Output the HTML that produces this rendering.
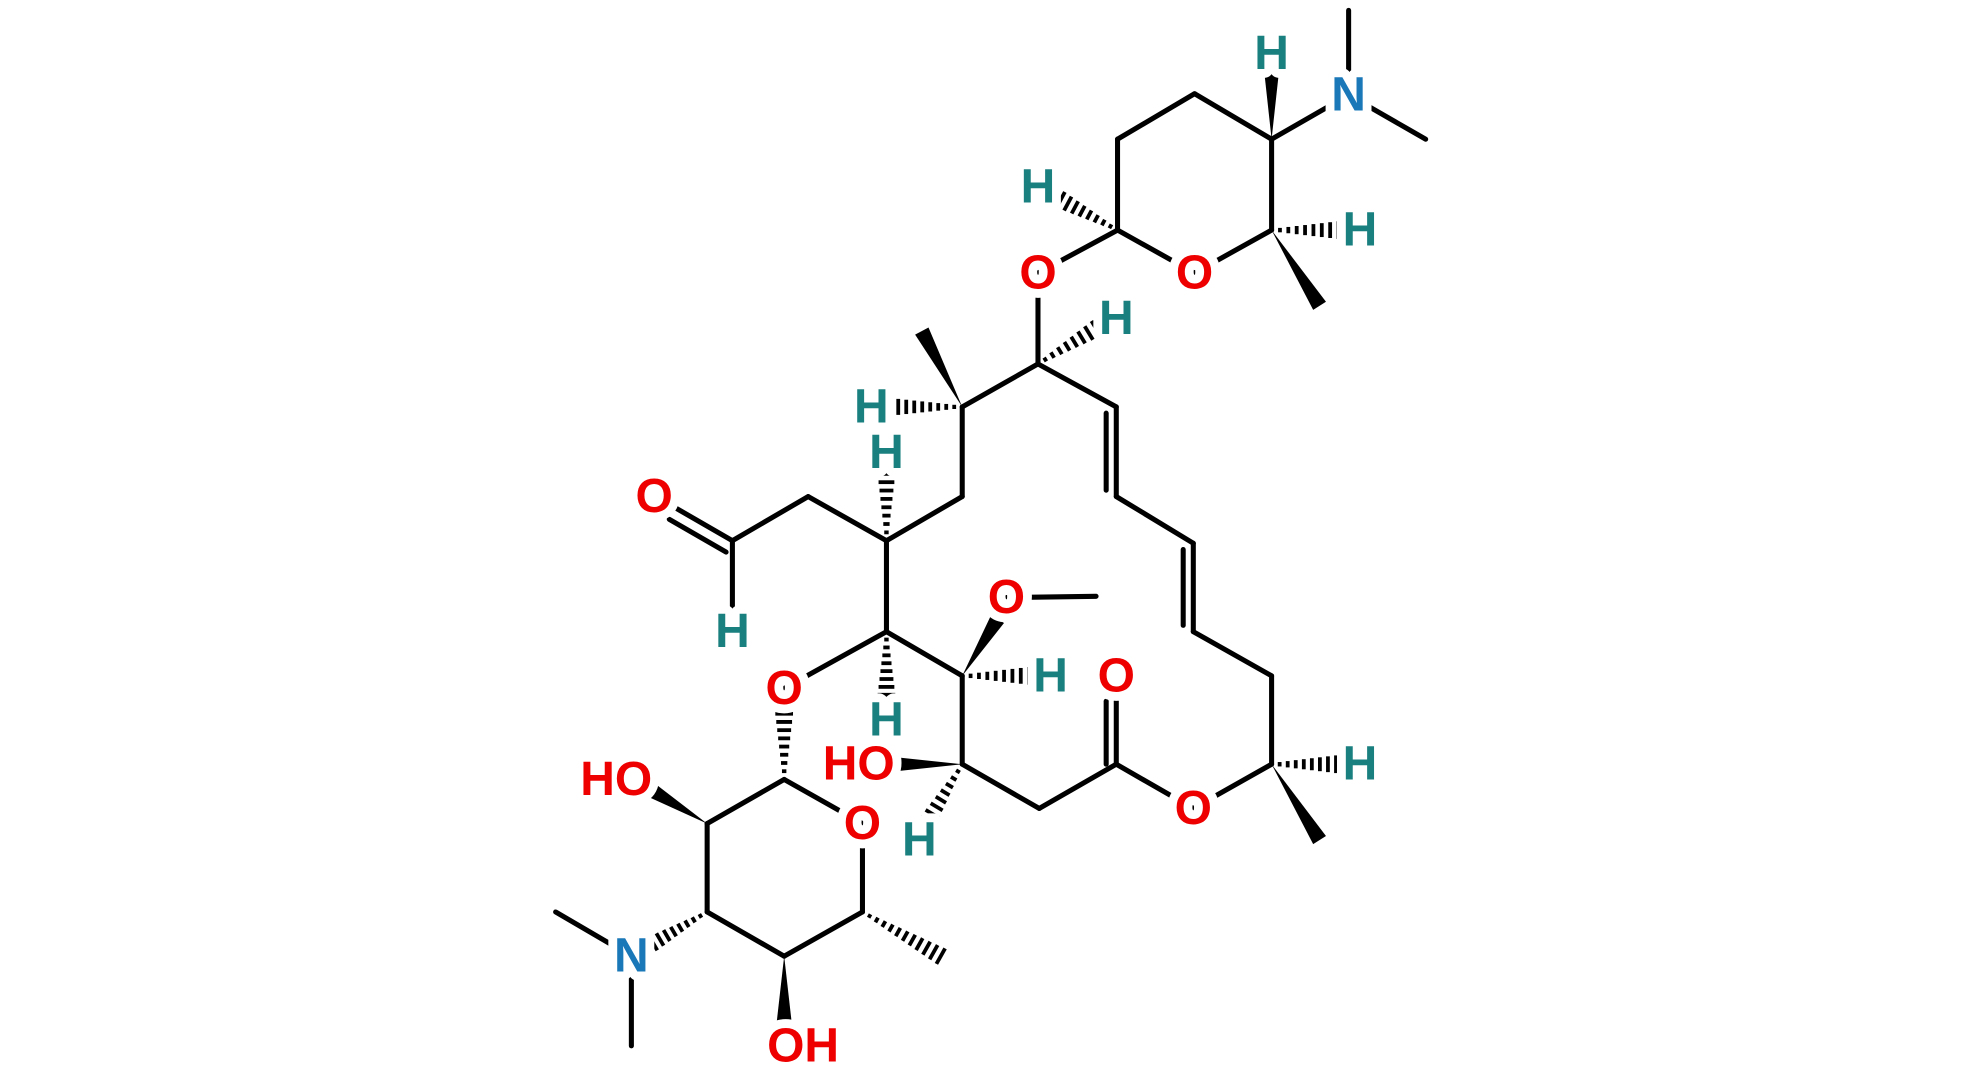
<!DOCTYPE html>
<html><head><meta charset="utf-8"><style>
html,body{margin:0;padding:0;background:#fff;}
svg{display:block;}
text{font-family:"Liberation Sans",sans-serif;font-weight:bold;font-size:38px;text-anchor:middle;dominant-baseline:central;paint-order:stroke;stroke:#fff;stroke-width:14px;stroke-linejoin:round;}
.O{fill:#ee0000}.N{fill:#1a78b8}.H{fill:#1a7f7f}
</style></head><body>
<svg id="s" width="1980" height="1084" viewBox="0 0 1568 858" xmlns="http://www.w3.org/2000/svg">
<g id="b" stroke="#000" stroke-width="4" stroke-linecap="round" fill="none"></g>
<g id="w" fill="#000"></g>
<g id="h" stroke="#000" stroke-width="3"></g>
<g id="t">
<text class="H" x="822" y="148">H</text>
<text class="H" x="1007" y="42">H</text>
<text class="N" x="1068" y="75">N</text>
<text class="H" x="1077" y="182">H</text>
<text class="O" x="946" y="216">O</text>
<text class="O" x="822" y="216">O</text>
<text class="H" x="884" y="252">H</text>
<text class="H" x="690" y="322">H</text>
<text class="H" x="702" y="358">H</text>
<text class="O" x="518" y="393">O</text>
<text class="H" x="580" y="500">H</text>
<text class="O" x="797" y="473">O</text>
<text class="H" x="832" y="535">H</text>
<text class="O" x="621" y="545">O</text>
<text class="H" x="702" y="570">H</text>
<text class="O" x="884" y="535">O</text>
<text class="O" x="680" y="605">HO</text>
<text class="H" x="728" y="665">H</text>
<text class="O" x="945" y="640">O</text>
<text class="H" x="1077" y="605">H</text>
<text class="O" x="488" y="617">HO</text>
<text class="O" x="683" y="652">O</text>
<text class="N" x="500" y="757">N</text>
<text class="O" x="636" y="828">OH</text>
</g>
</svg>
<script>
const NS="http://www.w3.org/2000/svg";
function L(a,b,c,d){const e=document.createElementNS(NS,"line");e.setAttribute("x1",a);e.setAttribute("y1",b);e.setAttribute("x2",c);e.setAttribute("y2",d);document.getElementById("b").appendChild(e);}
function W(a,b,c,d){const dx=c-a,dy=d-b,l=Math.hypot(dx,dy),px=-dy/l*6,py=dx/l*6;const p=document.createElementNS(NS,"polygon");p.setAttribute("points",`${a},${b} ${c+px},${d+py} ${c-px},${d-py}`);document.getElementById("w").appendChild(p);}
function Hs(a,b,c,d){const dx=c-a,dy=d-b,l=Math.hypot(dx,dy),ux=-dy/l,uy=dx/l;const n=Math.floor(l/6);for(let i=1;i<=n;i++){const t=i/n,x=a+dx*t,y=b+dy*t,w=1+6*t;const e=document.createElementNS(NS,"line");e.setAttribute("x1",x+ux*w);e.setAttribute("y1",y+uy*w);e.setAttribute("x2",x-ux*w);e.setAttribute("y2",y-uy*w);document.getElementById("h").appendChild(e);}}
L(885,182,885,110);L(885,110,946,74);L(946,74,1007,110);L(1007,110,1007,182);L(1007,182,946,216);L(946,216,885,182);
L(1007,110,1068,75);L(1068,75,1068,8);L(1068,75,1129,110);
W(1007,110,1007,55);Hs(1007,182,1060,182);W(1007,182,1045,242);Hs(885,182,840,158);
L(885,182,822,216);L(822,216,822,288);Hs(822,288,868,260);
L(822,288,762,322);W(762,322,730,262);Hs(762,322,705,322);
L(762,322,762,393);L(762,393,702,428);Hs(702,428,702,375);
L(702,428,640,393);L(640,393,580,428);L(580,428,535,402);L(575,437,530,411);L(580,428,580,482);
L(702,428,702,500);Hs(702,500,702,550);L(702,500,621,545);
Hs(621,617,621,565);
L(621,617,560,652);L(560,652,560,722);L(560,722,621,757);L(621,757,683,722);L(683,722,683,652);L(683,652,621,617);
W(560,652,515,625);Hs(560,722,512,750);L(500,757,440,722);L(500,757,500,828);W(621,757,621,810);Hs(683,722,745,757);
L(702,500,762,535);W(762,535,790,490);L(797,473,868,472);Hs(762,535,815,535);
L(762,535,762,605);W(762,605,705,605);Hs(762,605,735,650);
L(762,605,823,640);L(823,640,884,605);L(884,605,884,555);L(876,605,876,555);L(884,605,945,640);L(945,640,1007,605);
Hs(1007,605,1058,605);W(1007,605,1045,665);
L(1007,605,1007,535);L(1007,535,945,500);L(945,500,945,430);L(937,495,937,435);L(945,430,884,393);L(884,393,884,322);L(876,388,876,327);L(884,322,822,288);
</script>
</body></html>
